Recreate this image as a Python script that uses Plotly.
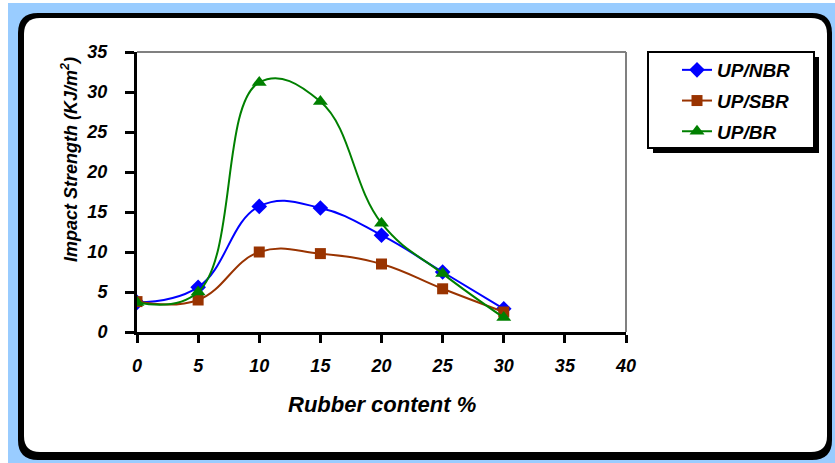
import plotly.graph_objects as go

rubber_content = [0, 5, 10, 15, 20, 25, 30]
up_nbr = [3.7, 5.6, 15.7, 15.5, 12.1, 7.5, 2.9]
up_sbr = [3.8, 4.0, 10.0, 9.8, 8.5, 5.4, 2.5]
up_br = [3.7, 5.0, 31.2, 28.8, 13.6, 7.3, 1.8]
x_ticks = [0, 5, 10, 15, 20, 25, 30, 35, 40]
y_ticks = [0, 5, 10, 15, 20, 25, 30, 35]

W, H = 835, 463
PX0, PX1, PY0, PY1 = 137, 626, 52, 332  # plot area in pixels


def xp(px):
    return (px - PX0) / (PX1 - PX0)


def yp(py):
    return (PY1 - py) / (PY1 - PY0)


def rrect(x0, y0, x1, y1, r):
    pts = [
        f"M {xp(x0 + r)},{yp(y0)}",
        f"L {xp(x1 - r)},{yp(y0)}",
        f"Q {xp(x1)},{yp(y0)} {xp(x1)},{yp(y0 + r)}",
        f"L {xp(x1)},{yp(y1 - r)}",
        f"Q {xp(x1)},{yp(y1)} {xp(x1 - r)},{yp(y1)}",
        f"L {xp(x0 + r)},{yp(y1)}",
        f"Q {xp(x0)},{yp(y1)} {xp(x0)},{yp(y1 - r)}",
        f"L {xp(x0)},{yp(y0 + r)}",
        f"Q {xp(x0)},{yp(y0)} {xp(x0 + r)},{yp(y0)}",
        "Z",
    ]
    return " ".join(pts)


FONT = "Arial, Liberation Sans, sans-serif"

fig = go.Figure()
series = [
    ("UP/NBR", up_nbr, "#0000FF", "diamond", 12),
    ("UP/SBR", up_sbr, "#993300", "square", 11),
    ("UP/BR", up_br, "#008000", "triangle-up", 13),
]
for name, vals, col, sym, sz in series:
    fig.add_trace(go.Scatter(
        x=rubber_content, y=vals, name=name, mode="lines+markers",
        line=dict(color=col, width=2, shape="spline", smoothing=1.2),
        marker=dict(symbol=sym, size=sz, color=col),
        legendgroup=name,
    ))

shapes = [
    # blue background
    dict(type="rect", xref="paper", yref="paper", x0=xp(8), x1=xp(W), y0=yp(3), y1=yp(H),
         fillcolor="#99CCFF", line=dict(width=0), layer="below"),
    # black panel (border + shadow)
    dict(type="path", xref="paper", yref="paper", path=rrect(18, 13, 832, 460, 20),
         fillcolor="black", line=dict(width=0), layer="below"),
    # white panel
    dict(type="path", xref="paper", yref="paper", path=rrect(24, 18, 827, 452, 16),
         fillcolor="white", line=dict(width=0), layer="below"),
    # plot area grey border (top/right)
    dict(type="line", xref="paper", yref="paper", x0=0, x1=1, y0=1, y1=1,
         line=dict(color="#808080", width=2), layer="below"),
    dict(type="line", xref="paper", yref="paper", x0=1, x1=1, y0=0, y1=1,
         line=dict(color="#808080", width=2), layer="below"),
    # legend shadow
    dict(type="rect", xref="paper", yref="paper", x0=xp(653), x1=xp(819), y0=yp(57), y1=yp(153),
         fillcolor="black", line=dict(width=0), layer="below"),
    # legend box
    dict(type="rect", xref="paper", yref="paper", x0=xp(648), x1=xp(814), y0=yp(52), y1=yp(148),
         fillcolor="white", line=dict(color="black", width=2), layer="below"),
]

annotations = [
    dict(text="Impact Strength (KJ/m<sup>2</sup>)", xref="paper", yref="paper",
         x=xp(69), y=yp(160), xanchor="center", yanchor="middle", textangle=-90,
         showarrow=False,
         font=dict(family=FONT, size=18, color="black", weight="bold", style="italic")),
    dict(text="Rubber content %", xref="paper", yref="paper",
         x=0.5, y=yp(404), xanchor="center", yanchor="middle",
         showarrow=False,
         font=dict(family=FONT, size=22, color="black", weight="bold", style="italic")),
]

fig.update_layout(
    width=W, height=H,
    margin=dict(l=PX0, r=W - PX1, t=PY0, b=H - PY1),
    paper_bgcolor="white",
    plot_bgcolor="rgba(0,0,0,0)",
    shapes=shapes,
    annotations=annotations,
    font=dict(family=FONT, color="black"),
    showlegend=True,
    legend=dict(
        x=xp(677), y=yp(51), xanchor="left", yanchor="top",
        bgcolor="rgba(0,0,0,0)", borderwidth=0,
        font=dict(family=FONT, size=19, color="black", weight="bold", style="italic"),
        tracegroupgap=3,
    ),
    xaxis=dict(
        range=[0, 40], tickvals=x_ticks, ticktext=[str(v) for v in x_ticks],
        showgrid=False, zeroline=False,
        showline=True, linecolor="black", linewidth=3,
        ticks="outside", ticklen=8, tickwidth=2.5, tickcolor="black",
        ticklabelstandoff=7,
        tickfont=dict(family=FONT, size=18, weight="bold", style="italic"),
    ),
    yaxis=dict(
        range=[0, 35], tickvals=y_ticks, ticktext=[str(v) for v in y_ticks],
        showgrid=False, zeroline=False,
        showline=True, linecolor="black", linewidth=3,
        ticks="outside", ticklen=9, tickwidth=2.5, tickcolor="black",
        ticklabelstandoff=14,
        tickfont=dict(family=FONT, size=18, weight="bold", style="italic"),
    ),
)

fig.write_html("out.html")
